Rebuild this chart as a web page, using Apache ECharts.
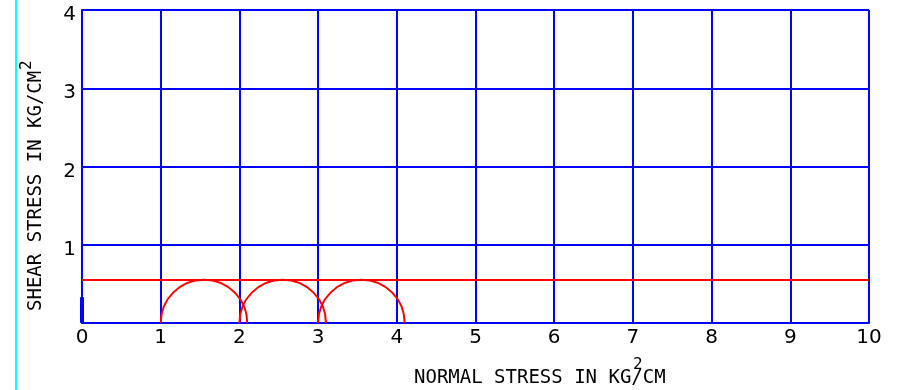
<!DOCTYPE html>
<html><head><meta charset="utf-8">
<script src="https://cdn.jsdelivr.net/npm/echarts@6/dist/echarts.min.js"></script>
<style>html,body{margin:0;padding:0;background:#fff}#c{width:908px;height:390px}</style>
</head><body><div id="c"></div>
<script>
const xTicks = [0,1,2,3,4,5,6,7,8,9,10];
const yTicks = [0,1,2,3,4];
const circleCenters = [1.55, 2.55, 3.55];
const circleRadii = [0.55, 0.55, 0.55];
const envelopeX = [0, 10];
const envelopeY = [0.55, 0.55];
const stubX = [0, 0];
const stubY = [0, 0.33];
const xTitle = 'NORMAL STRESS IN KG/CM';
const yTitle = 'SHEAR STRESS IN KG/CM';

const chart = echarts.init(document.getElementById('c'), null, {renderer:'canvas'});
const blue = '#0000FF', red = '#FF0000';
const font = 'DejaVu Sans';
const monoFont = 'DejaVu Sans Mono';

chart.setOption({
  animation: false,
  grid: {left: 82, right: 39, top: 10, bottom: 67, show: false},
  xAxis: {
    type: 'value', min: xTicks[0], max: xTicks[xTicks.length-1], interval: 1,
    axisLine: {show: true, onZero: false, lineStyle: {color: blue, width: 2}},
    axisTick: {show: false},
    splitLine: {show: true, lineStyle: {color: blue, width: 2}},
    axisLabel: {color: '#000', fontFamily: font, fontSize: 20, margin: 5, showMaxLabel: true, showMinLabel: true}
  },
  yAxis: {
    type: 'value', min: yTicks[0], max: yTicks[yTicks.length-1], interval: 1,
    axisLine: {show: true, onZero: false, lineStyle: {color: blue, width: 2}},
    axisTick: {show: false},
    splitLine: {show: true, lineStyle: {color: blue, width: 2}},
    axisLabel: {color: '#000', fontFamily: font, fontSize: 20, margin: 6,
      formatter: v => v === 0 ? '' : '{a|' + v + '}',
      rich: {a: {fontFamily: font, fontSize: 20, color: '#000', padding: [10, 0, 0, 0]}}}
  },
  graphic: [
    {type: 'line', shape: {x1: 16, y1: 0, x2: 16, y2: 390}, style: {stroke: '#00FFFF', lineWidth: 2}, silent: true},
    {type: 'line', shape: {x1: 869, y1: 10, x2: 869, y2: 323}, style: {stroke: blue, lineWidth: 2}, silent: true},
    {type: 'line', shape: {x1: 82, y1: 10, x2: 869, y2: 10}, style: {stroke: blue, lineWidth: 2}, silent: true},
    {type: 'text', left: 414, top: 369, style: {text: xTitle, font: '19px "' + monoFont + '"', fill: '#000'}},
    {type: 'text', left: 633, top: 357, style: {text: '2', font: '16px "' + monoFont + '"', fill: '#000'}},
    {type: 'text', x: 27, y: 311, rotation: Math.PI/2, style: {text: yTitle, font: '19px "' + monoFont + '"', fill: '#000', textVerticalAlign: 'top'}},
    {type: 'text', x: 19, y: 70, rotation: Math.PI/2, style: {text: '2', font: '16px "' + monoFont + '"', fill: '#000', textVerticalAlign: 'top'}}
  ],
  series: [
    {
      type: 'line', data: envelopeX.map((x,i)=>[x, envelopeY[i]]), symbol: 'none',
      lineStyle: {color: red, width: 2}, z: 3
    },
    {
      type: 'line', data: stubX.map((x,i)=>[x, stubY[i]]), symbol: 'none',
      lineStyle: {color: blue, width: 4}, z: 3
    },
    {
      type: 'custom',
      data: circleCenters.map((c,i)=>[c, circleRadii[i]]),
      renderItem: function(params, api){
        const c = api.coord([api.value(0), 0]);
        const r = api.size([api.value(1), 0])[0];
        return {
          type: 'arc',
          shape: {cx: c[0], cy: c[1], r: r, startAngle: Math.PI, endAngle: 2*Math.PI, clockwise: true},
          style: {stroke: red, lineWidth: 2, fill: null}
        };
      },
      z: 4
    }
  ]
});
</script></body></html>
